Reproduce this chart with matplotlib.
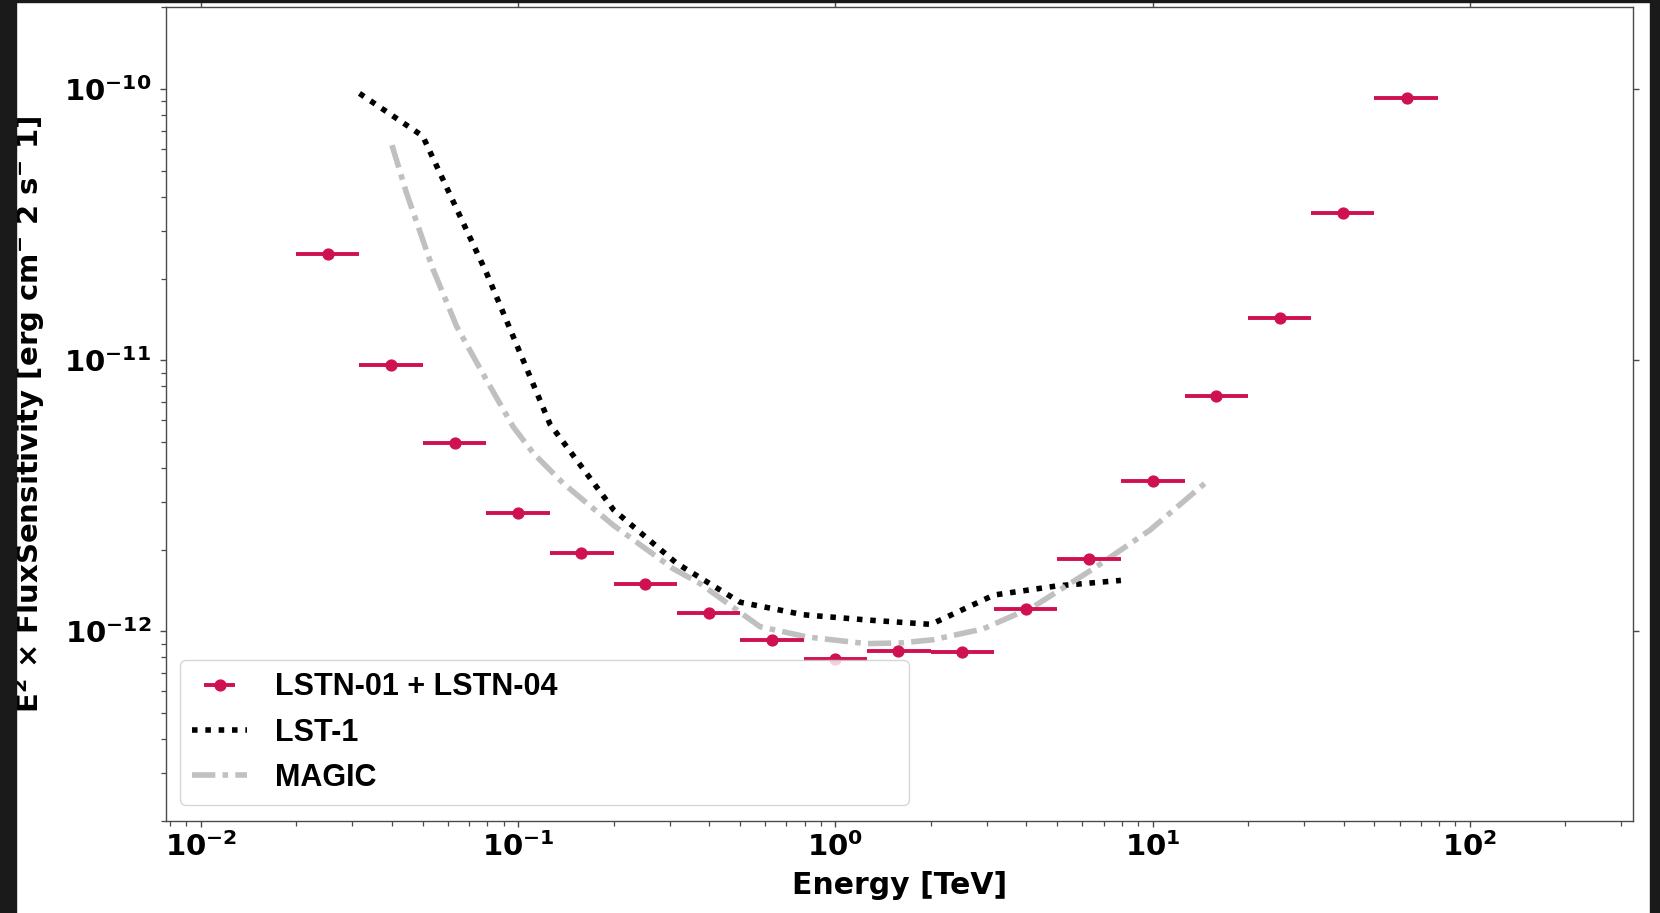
import numpy as np
import matplotlib
matplotlib.use("Agg")
import matplotlib.pyplot as plt
from matplotlib.ticker import FuncFormatter
from matplotlib.patches import Rectangle

# LSTN-01 + LSTN-04 sensitivity (energy bins, 5 per decade)
e_lo = [0.02, 0.0316, 0.05, 0.0794, 0.126, 0.2, 0.316, 0.5, 0.794,
        1.26, 2.0, 3.16, 5.0, 7.94, 12.6, 20.0, 31.6, 50.0]
e_hi = [0.0316, 0.05, 0.0794, 0.126, 0.2, 0.316, 0.5, 0.794, 1.26,
        2.0, 3.16, 5.0, 7.94, 12.6, 20.0, 31.6, 50.0, 79.4]
e_center = [0.0251, 0.0398, 0.0631, 0.1, 0.158, 0.251, 0.398, 0.631, 1.0,
            1.58, 2.51, 3.98, 6.31, 10.0, 15.8, 25.1, 39.8, 63.1]
sens = [2.46e-11, 9.56e-12, 4.93e-12, 2.72e-12, 1.94e-12, 1.49e-12,
        1.17e-12, 9.27e-13, 7.87e-13, 8.46e-13, 8.36e-13, 1.21e-12,
        1.85e-12, 3.58e-12, 7.36e-12, 1.43e-11, 3.50e-11, 9.29e-11]

# LST-1 curve
lst_e = [0.0316, 0.05, 0.0794, 0.126, 0.2, 0.316, 0.5, 0.794, 1.26,
         2.0, 3.16, 5.0, 7.94]
lst_sens = [9.64e-11, 6.71e-11, 2.1e-11, 5.8e-12, 2.8e-12, 1.78e-12,
            1.28e-12, 1.15e-12, 1.10e-12, 1.06e-12, 1.36e-12, 1.47e-12,
            1.54e-12]

# MAGIC curve
magic_e = [0.04, 0.0445, 0.054, 0.064, 0.0795, 0.0964, 0.1117, 0.1387,
           0.1995, 0.308, 0.374, 0.578, 0.811, 1.25, 1.60, 2.03, 2.92,
           4.20, 6.50, 9.80, 14.8]
magic_sens = [6.21e-11, 4.12e-11, 2.15e-11, 1.33e-11, 8.43e-12, 5.68e-12,
              4.53e-12, 3.51e-12, 2.46e-12, 1.70e-12, 1.50e-12, 1.04e-12,
              9.53e-13, 9.0e-13, 9.05e-13, 9.3e-13, 1.02e-12, 1.23e-12,
              1.70e-12, 2.36e-12, 3.56e-12]

red = "#CF1152"
spine_col = "#4a4a4a"

fig = plt.figure(figsize=(16.6, 9.13), dpi=100)
ax = fig.add_axes([0.0998, 0.1011, 0.8838, 0.8907])

ec = np.array(e_center)
xerr = [ec - np.array(e_lo), np.array(e_hi) - ec]
ax.errorbar(e_center, sens, xerr=xerr, fmt="o", color=red, ms=7.8,
            elinewidth=2.8, capsize=0, label="LSTN-01 + LSTN-04", zorder=3)
ax.plot(lst_e, lst_sens, color="black", lw=4.0, dashes=(1, 1.4),
        label="LST-1")
ax.plot(magic_e, magic_sens, color="#c0c0c0", lw=4.0, dashes=(4.2, 1.3, 1, 1.3),
        label="MAGIC")

ax.set_xscale("log")
ax.set_yscale("log")
ax.set_xlim(7.74e-3, 326)
ax.set_ylim(2.0e-13, 2.0e-10)

fmt = FuncFormatter(lambda v, p: r"$\mathbf{10^{%d}}$" % round(np.log10(v)))
ax.xaxis.set_major_formatter(fmt)
ax.yaxis.set_major_formatter(fmt)

for s in ax.spines.values():
    s.set_color(spine_col)
    s.set_linewidth(1.0)
ax.tick_params(which="major", length=4.5, width=1.0, color=spine_col,
               labelsize=21, top=True, right=True)
ax.tick_params(which="minor", length=3.3, width=0.9, color=spine_col)
ax.tick_params(axis="y", which="major", pad=6)

ax.set_xlabel("Energy [TeV]", fontsize=21.5, fontweight="bold", labelpad=7)
ax.set_ylabel(r"E$^{\mathbf{2}}$ × FluxSensitivity [erg cm$^{\mathbf{-}}$ 2 s$^{\mathbf{-}}$ 1]",
              fontsize=21, fontweight="bold")
ax.yaxis.set_label_coords(-0.081, 0.5)

handles, labels = ax.get_legend_handles_labels()
order = [labels.index("LSTN-01 + LSTN-04"), labels.index("LST-1"), labels.index("MAGIC")]
leg = ax.legend([handles[i] for i in order], [labels[i] for i in order],
                loc="lower left", bbox_to_anchor=(0.00975, 0.0193, 0.497, 0.17),
                mode="expand", borderaxespad=0, handlelength=1.8,
                handletextpad=0.9,
                prop={"family": "Liberation Sans", "weight": "bold", "size": 22})

# screenshot border
dark = "#1a1a1a"
fig.add_artist(Rectangle((0, 0), 16 / 1660, 1, transform=fig.transFigure,
                         color=dark, zorder=10))
fig.add_artist(Rectangle((0, 1 - 2 / 913), 1, 2 / 913, transform=fig.transFigure,
                         color=dark, zorder=10))
fig.add_artist(Rectangle((1650 / 1660, 0), 10 / 1660, 1, transform=fig.transFigure,
                         color=dark, zorder=10))

fig.savefig("out.png", dpi=100)
